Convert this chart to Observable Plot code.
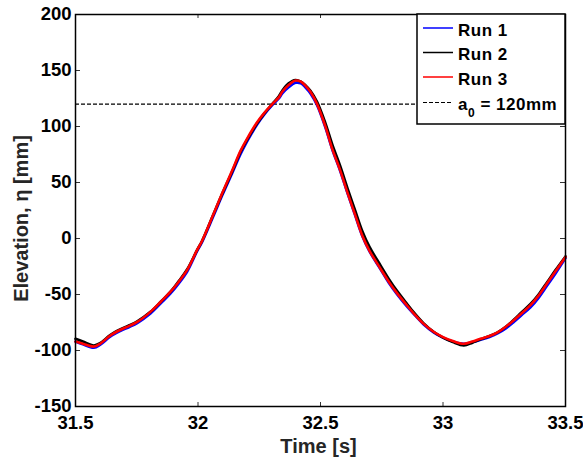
<!DOCTYPE html>
<html>
<head>
<meta charset="utf-8">
<script src="https://cdn.jsdelivr.net/npm/d3@7"></script>
<script src="https://cdn.jsdelivr.net/npm/@observablehq/plot@0.6"></script>
<style>
  html, body { margin: 0; padding: 0; background: #fff; }
  #chart { position: relative; width: 583px; height: 457px; }
  #chart svg text { font-weight: bold; }
</style>
</head>
<body>
<div id="chart"></div>
<script>
// ---- data ----
const time = [31.50,31.53,31.575,31.60,31.643,31.684,31.72,31.752,31.806,31.85,31.888,31.92,31.956,31.997,32.017,32.06,32.10,32.14,32.173,32.20,32.242,32.27,32.303,32.33,32.344,32.37,32.398,32.42,32.44,32.459,32.486,32.52,32.548,32.58,32.61,32.64,32.67,32.70,32.745,32.78,32.813,32.85,32.881,32.92,32.963,33.00,33.04,33.085,33.12,33.153,33.19,33.221,33.255,33.289,33.32,33.357,33.39,33.425,33.46,33.50];

const run1 = [-92,-94.5,-97.5,-95,-87.5,-82.5,-79,-75.5,-67,-57.5,-49,-40.5,-29.5,-11,-3,18.5,39,58.5,75,86.5,102,110.5,119,125,129.5,135,139,138.5,134.5,129.5,119,99,79.5,60.5,40.5,21.5,2.5,-11.5,-27.5,-40,-50,-60,-67.5,-76.5,-84,-88.5,-92,-94,-92.5,-90.5,-88,-85,-80.5,-74.5,-68.5,-61.5,-53,-42,-31,-17.5];

const run2 = [-89.5,-92,-95.5,-93.5,-86,-81,-77.5,-74,-65.5,-56,-47.5,-38.5,-27.5,-10,-2,20,40.5,60,77,88,103,111.5,120,127,132,138.5,141.5,140,136.5,132,122,103,84,65,45,26,7,-7.5,-24,-36.5,-47,-57.5,-66,-75.5,-83.5,-88.5,-92.5,-95.5,-93,-90,-87,-84,-79,-72.5,-66,-58.5,-50,-39,-28,-16];

const run3 = [-92,-94,-96.5,-94,-86.5,-81.5,-78,-74.5,-65.5,-56,-47.5,-39,-28,-10,-2,20,41,61,78,89,104,112,120,126,131,137,141,140,136,131,120,100,80,61,41,22,3,-11,-27,-39,-49,-59,-67,-76,-83.5,-88,-91.5,-94,-92,-89.5,-87,-84,-79,-73,-67,-59.5,-51,-40,-29,-16.5];

const a0 = 120;
const xTicks = [31.5, 32, 32.5, 33, 33.5];
const yTicks = [-150, -100, -50, 0, 50, 100, 150, 200];
const seriesNames = ["Run 1", "Run 2", "Run 3"];
const seriesColors = ["#0000ff", "#000000", "#ff0000"];
const xLabel = "Time [s]";
const yLabel = "Elevation, η [mm]";
const refLabel = "a";
const refSub = "0";
const refRest = " = 120mm";

// ---- build table ----
const runs = [run1, run2, run3];
const rows = [];
runs.forEach((vals, i) => vals.forEach((v, j) => rows.push({t: time[j], eta: v, run: seriesNames[i]})));

const W = 583, H = 457;
const mL = 75, mR = 18, mT = 14, mB = 51;
const fw = W - mL - mR, fh = H - mT - mB;

const plot = Plot.plot({
  width: W, height: H,
  marginLeft: mL, marginRight: mR, marginTop: mT, marginBottom: mB,
  x: {domain: [31.5, 33.5]},
  y: {domain: [-150, 200]},
  style: {fontFamily: "'Liberation Sans', Arial, sans-serif", fontSize: "18px", fontWeight: "bold", color: "#000", background: "#fff"},
  marks: [
    Plot.ruleY([a0], {stroke: "#000", strokeWidth: 1.3, strokeDasharray: "4,2"}),
    ...seriesNames.map((name, i) =>
      Plot.line(rows.filter(d => d.run === name), {x: "t", y: "eta", stroke: seriesColors[i], strokeWidth: 2.6, curve: "catmull-rom"})
    ),
    // inward ticks (left, right, bottom, top)
    Plot.tickY(yTicks, {y: d => d, insetRight: fw - 5, stroke: "#333", strokeWidth: 1}),
    Plot.tickY(yTicks, {y: d => d, insetLeft: fw - 5, stroke: "#333", strokeWidth: 1}),
    Plot.tickX(xTicks, {x: d => d, insetTop: fh - 4, stroke: "#333", strokeWidth: 1}),
    Plot.tickX(xTicks, {x: d => d, insetBottom: fh - 4, stroke: "#333", strokeWidth: 1}),
    Plot.axisY(yTicks, {tickSize: 0, tickPadding: 4, tickFormat: d => String(d), label: null, fontSize: 18.5, fill: "#000"}),
    Plot.axisX(xTicks, {tickSize: 0, tickPadding: 9, tickFormat: d => String(d), label: null, fontSize: 18.5, fill: "#000"}),
    Plot.frame({stroke: "#000", strokeWidth: 1.5}),
    Plot.text([yLabel], {text: d => d, frameAnchor: "left", dx: -54, dy: 8, rotate: -90, textAnchor: "middle", lineAnchor: "middle", fontSize: 20, fill: "#262626", style: "letter-spacing:0.6px"}),
    Plot.text([xLabel], {text: d => d, frameAnchor: "bottom", dx: -2, dy: 40, textAnchor: "middle", lineAnchor: "middle", fontSize: 20, fill: "#262626"})
  ]
});

document.getElementById("chart").appendChild(plot);

// ---- legend inside the plot (top-right) ----
const svg = d3.select(plot);
const lg = svg.append("g").attr("class", "legend").attr("text-anchor", "start");
const bx = 417, by = 14, bw = 148, bh = 110;
lg.append("rect").attr("x", bx).attr("y", by).attr("width", bw).attr("height", bh)
  .attr("fill", "#fff").attr("stroke", "#000").attr("stroke-width", 1.5);
const rowY = [28, 52.5, 77, 102.5];
seriesNames.forEach((name, i) => {
  lg.append("line").attr("x1", 423).attr("x2", 453).attr("y1", rowY[i]).attr("y2", rowY[i])
    .attr("stroke", seriesColors[i]).attr("stroke-width", 1.5);
  lg.append("text").attr("x", 458).attr("y", rowY[i] + 7.5).attr("text-anchor", "start").text(name)
    .attr("font-size", 17).attr("letter-spacing", "0.5px").attr("fill", "#000");
});
lg.append("line").attr("x1", 423).attr("x2", 453).attr("y1", rowY[3]).attr("y2", rowY[3])
  .attr("stroke", "#000").attr("stroke-width", 1.2).attr("stroke-dasharray", "4,2");
const t4 = lg.append("text").attr("x", 458).attr("y", rowY[3] + 7.5).attr("text-anchor", "start")
  .attr("font-size", 17).attr("letter-spacing", "0.5px").attr("fill", "#000");
t4.append("tspan").text(refLabel);
t4.append("tspan").attr("dy", 7).attr("font-size", 12).text(refSub);
t4.append("tspan").attr("dy", -7).text(refRest);
</script>
</body>
</html>
